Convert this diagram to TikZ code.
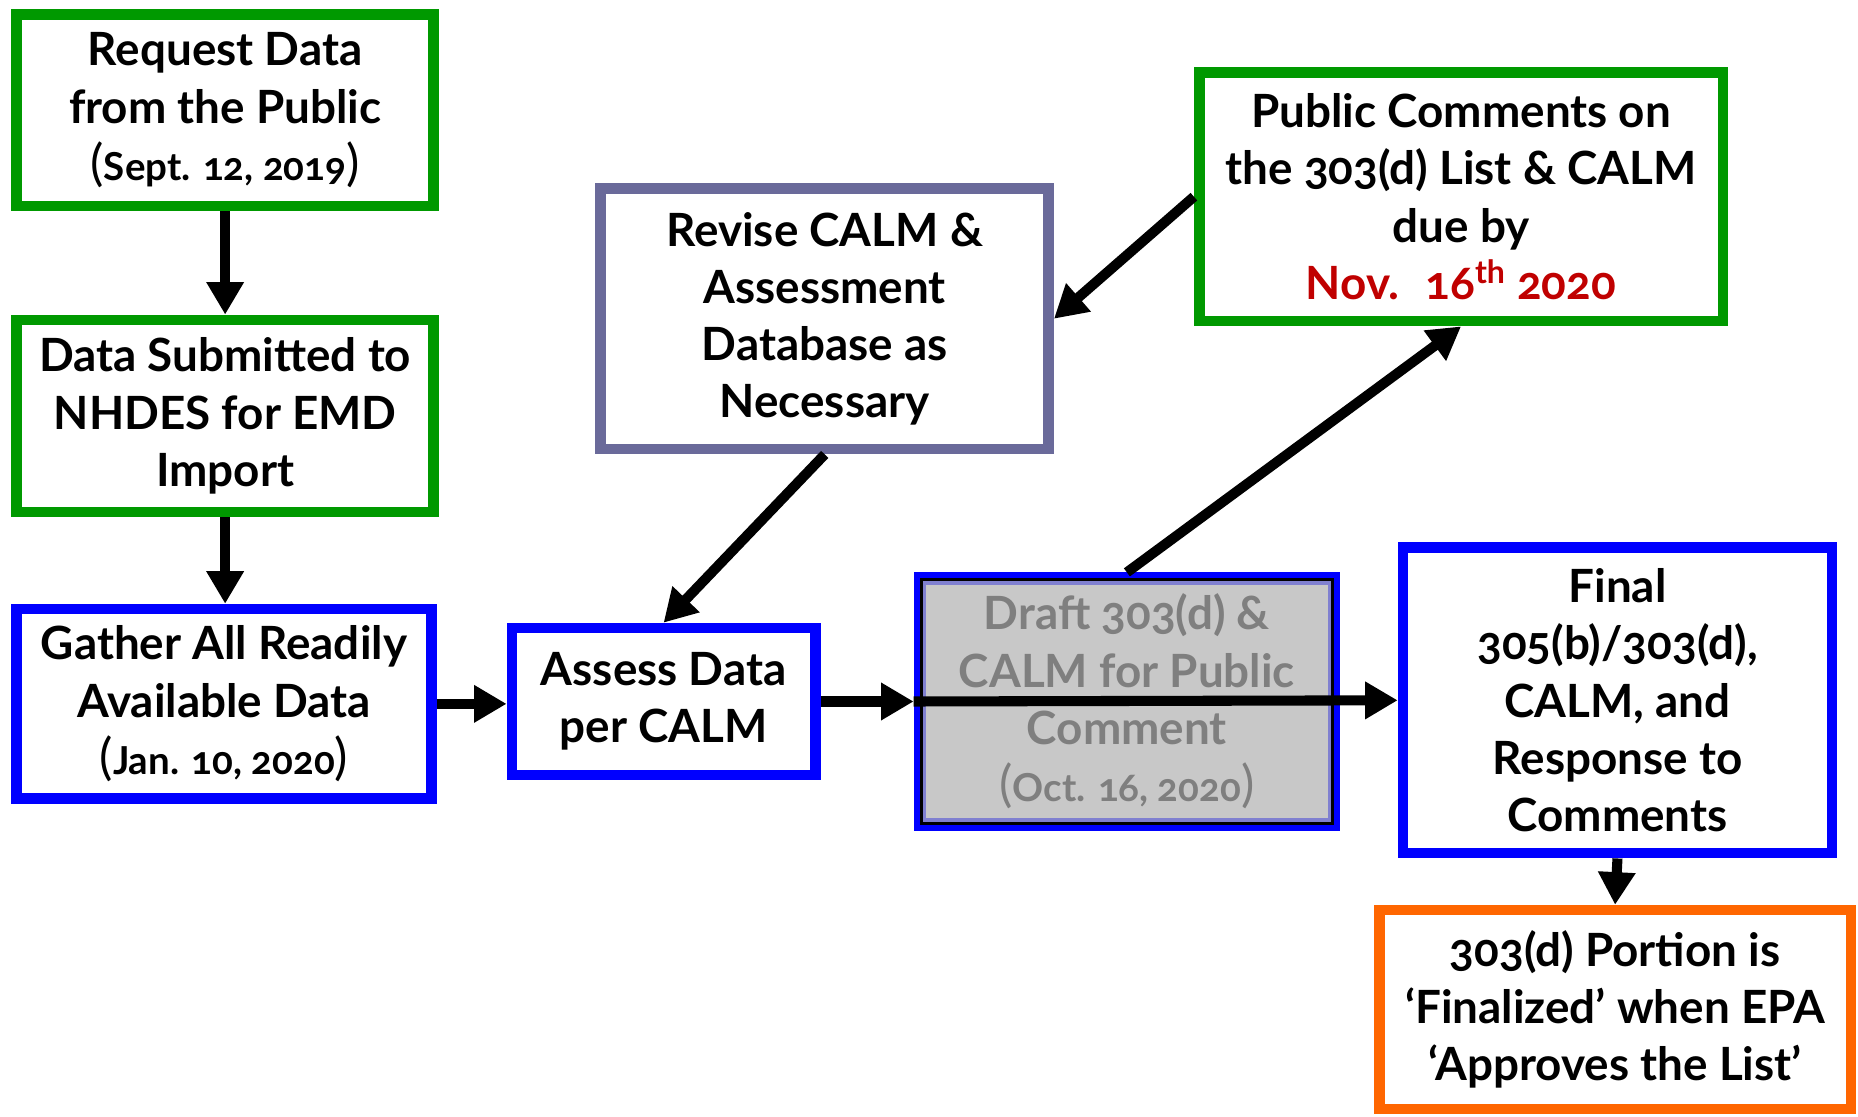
\documentclass[tikz,border=0pt]{standalone}
\usepackage{fontspec}
\setmainfont{Lato}[Numbers=OldStyle]
\usepackage{tikz}
\usetikzlibrary{positioning,calc,arrows.meta}
\definecolor{stepgreen}{RGB}{0,153,0}
\definecolor{stepblue}{RGB}{0,0,255}
\definecolor{steppurple}{RGB}{106,106,154}
\definecolor{steporange}{RGB}{255,102,0}
\definecolor{duered}{RGB}{192,0,0}
\definecolor{draftfill}{RGB}{200,200,200}
\definecolor{drafttext}{RGB}{127,127,127}
\definecolor{draftedge}{RGB}{128,128,208}
\newcommand{\when}[1]{{\fontsize{24}{27}\selectfont\mdseries(}{\fontsize{18.5}{27}\selectfont #1}{\fontsize{24}{27}\selectfont\mdseries)}}

\begin{document}
\begin{tikzpicture}[
    x=0.02cm, y=-0.02cm,
    stage/.style={rectangle, draw, line width=0.18cm, fill=white, align=center, inner sep=0pt,
        font=\bfseries\fontsize{22}{27.5}\selectfont},
    green/.style={stage, draw=stepgreen},
    blue/.style={stage, draw=stepblue},
    purple/.style={stage, draw=steppurple},
    orange/.style={stage, draw=steporange},
    draftbox/.style={stage, fill=draftfill, draw=draftedge, line width=0.06cm, outer sep=0.18cm,
        text=drafttext,
        preaction={draw=stepblue, line width=0.36cm},
        preaction={draw=black, line width=0.16cm}},
    arr/.style={-{Triangle[length=0.55cm, width=0.6cm]}, line width=0.17cm, black}
]
    \useasboundingbox (0,0) rectangle (1568,942);

    % Left column
    \node[green, minimum width=7.04cm, minimum height=3.24cm] (request) at (190,93)
        {Request Data\\from the Public\\\when{Sept. 12, 2019}};
    \node[green, minimum width=7.04cm, minimum height=3.24cm] (submit) at (190,351)
        {Data Submitted to\\NHDES for EMD\\Import};
    \node[blue, minimum width=7cm, minimum height=3.2cm] (gather) at (189,594)
        {Gather All Readily\\Available Data\\\when{Jan. 10, 2020}};

    % Middle
    \node[blue, minimum width=5.12cm, minimum height=2.48cm] (assess) at (560,592)
        {Assess Data\\per CALM};
    \node[purple, minimum width=7.56cm, minimum height=4.4cm] (revise) at (696,269)
        {Revise CALM \&\\Assessment\\Database as\\Necessary};
    \node[draftbox, minimum width=6.84cm, minimum height=4cm] (draft) at (951,592)
        {Draft 303(d) \&\\CALM for Public\\Comment\\\when{Oct. 16, 2020}};

    % Right column
    \node[green, minimum width=8.84cm, minimum height=4.2cm] (public) at (1233,166)
        {Public Comments on\\the 303(d) List \& CALM\\due by\\
        \textcolor{duered}{Nov.~ 16\textsuperscript{th} 2020}};
    \node[blue, minimum width=7.24cm, minimum height=5.16cm] (final) at (1365,591)
        {Final\\305(b)/303(d),\\CALM, and\\Response to\\Comments};
    \node[orange, minimum width=7.96cm, minimum height=3.36cm] (portion) at (1363,852)
        {303(d) Portion is\\`Finalized' when EPA\\`Approves the List'};

    % Arrows
    \draw[arr] (request) -- (submit);
    \draw[arr] (submit.south) -- (submit.south |- gather.north);
    \draw[arr] (gather.east) -- (gather.east -| assess.west);
    \draw[arr] (assess.east) -- (draft.west);
    \draw[arr] (draft.west) -- (final.west);
    \draw[arr] (revise.south) -- (assess.north);
    \draw[arr] (public.west) -- (revise.east);
    \draw[arr] (draft.north) -- (public.south);
    \draw[arr] (final.south) -- (portion.north);
\end{tikzpicture}
\end{document}
